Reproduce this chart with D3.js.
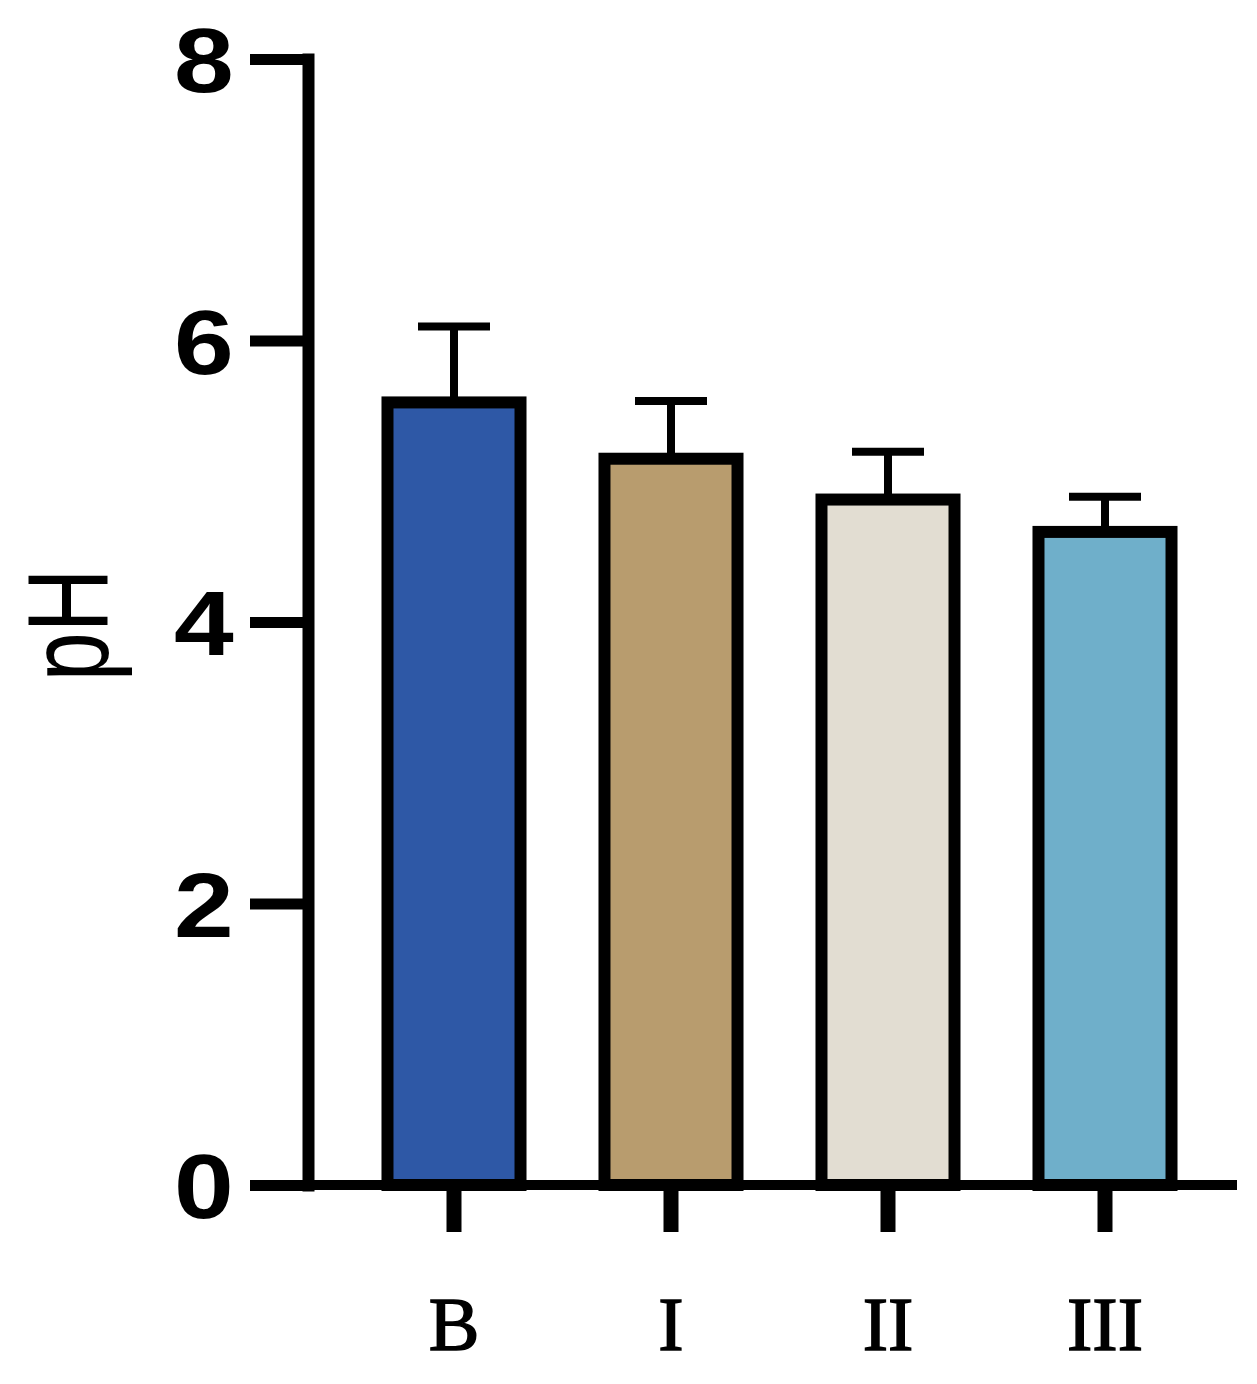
<!DOCTYPE html>
<html>
<head>
<meta charset="utf-8">
<script src="https://cdn.jsdelivr.net/npm/d3@7"></script>
<style>
  body { margin: 0; background: #fff; }
  svg { display: block; }
</style>
</head>
<body>
<div id="chart"></div>
<script>
// data
const groups = ["B", "I", "II", "III"];
const means = [5.56, 5.16, 4.87, 4.64];
const errors = [0.54, 0.41, 0.34, 0.25];
const barColors = ["#2e58a6", "#b89c6e", "#e2ddd2", "#6fafca"];
const yTicks = [0, 2, 4, 6, 8];

const W = 1257, H = 1384;

const svg = d3.select("#chart")
  .append("svg")
    .attr("width", W)
    .attr("height", H);

// scales
const y = d3.scaleLinear()
  .domain([0, 8])
  .range([1185, 59]);

const x = d3.scaleBand()
  .domain(groups)
  .range([345.5, 1213.5])
  .paddingInner(0.387)
  .paddingOuter(0.1935);

const rows = groups.map((g, i) => ({ g: g, v: means[i], e: errors[i], c: barColors[i] }));

// error bars (behind the bars)
const err = svg.append("g")
  .attr("stroke", "#000")
  .attr("stroke-width", 8);

err.selectAll("line.stem")
  .data(rows)
  .enter()
  .append("line")
    .attr("class", "stem")
    .attr("x1", d => x(d.g) + x.bandwidth() / 2)
    .attr("x2", d => x(d.g) + x.bandwidth() / 2)
    .attr("y1", d => y(d.v))
    .attr("y2", d => y(d.v + d.e));

err.selectAll("line.cap")
  .data(rows)
  .enter()
  .append("line")
    .attr("class", "cap")
    .attr("x1", d => x(d.g) + x.bandwidth() / 2 - 36)
    .attr("x2", d => x(d.g) + x.bandwidth() / 2 + 36)
    .attr("y1", d => y(d.v + d.e))
    .attr("y2", d => y(d.v + d.e));

// bars
svg.append("g").selectAll("rect")
  .data(rows)
  .enter()
  .append("rect")
    .attr("x", d => x(d.g))
    .attr("y", d => y(d.v))
    .attr("width", x.bandwidth())
    .attr("height", d => y(0) - y(d.v))
    .attr("fill", d => d.c)
    .attr("stroke", "#000")
    .attr("stroke-width", 12);

// y axis
const yAxis = svg.append("g")
  .attr("transform", "translate(308,0)")
  .call(d3.axisLeft(y).tickValues(yTicks).tickSize(58).tickSizeOuter(0).tickFormat(d3.format("d")));

yAxis.select(".domain")
  .attr("stroke", "#000")
  .attr("stroke-width", 12)
  .attr("stroke-linecap", "square");

yAxis.selectAll(".tick line")
  .attr("stroke", "#000")
  .attr("stroke-width", 11);

yAxis.selectAll(".tick text")
  .attr("x", -63)
  .attr("dy", "0.36em")
  .attr("transform", "scale(1.18,1)")
  .style("font-family", "'Liberation Sans', Arial, sans-serif")
  .style("font-weight", "bold")
  .style("font-size", "91px")
  .attr("fill", "#000");

// x axis
const xAxis = svg.append("g")
  .attr("transform", "translate(0," + y(0) + ")")
  .call(d3.axisBottom(x).tickSize(47).tickSizeOuter(0));

xAxis.select(".domain").remove();
xAxis.append("line")
  .attr("x1", 250)
  .attr("x2", 1237)
  .attr("stroke", "#000")
  .attr("stroke-width", 10);

xAxis.selectAll(".tick line")
  .attr("stroke", "#000")
  .attr("stroke-width", 15);

xAxis.selectAll(".tick text")
  .attr("y", 165)
  .attr("dy", 0)
  .style("font-family", "'Liberation Serif', 'Times New Roman', serif")
  .style("font-size", "76px")
  .attr("fill", "#000")
  .attr("stroke", "#000")
  .attr("stroke-width", 1.5);

// y axis title
svg.append("text")
  .attr("transform", "translate(108,625) rotate(-90) scale(1,1.3)")
  .attr("text-anchor", "middle")
  .style("font-family", "'Liberation Sans', Arial, sans-serif")
  .style("font-size", "88px")
  .text("pH");
</script>
</body>
</html>
